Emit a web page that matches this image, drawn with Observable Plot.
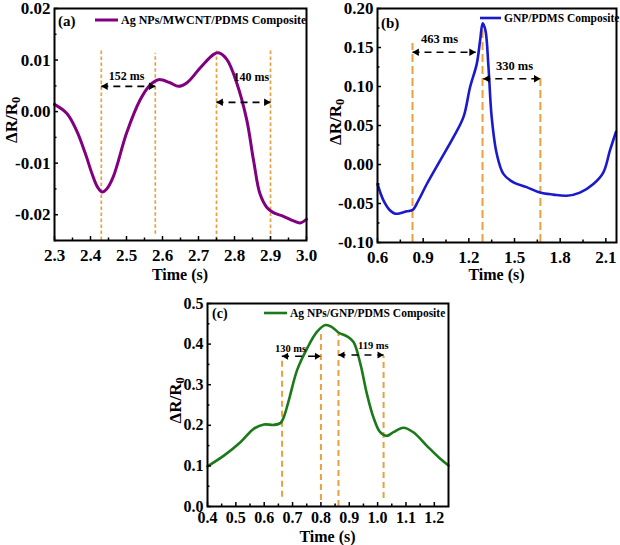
<!DOCTYPE html>
<html>
<head>
<meta charset="utf-8">
<script src="https://cdn.jsdelivr.net/npm/d3@7"></script>
<script src="https://cdn.jsdelivr.net/npm/@observablehq/plot@0.6"></script>
<style>
  body { margin: 0; background: #fff; }
  #wrap { position: relative; width: 620px; height: 545px; overflow: hidden; background: #fff; }
  #wrap > div { position: absolute; }
  #wrap svg { display: block; overflow: visible; }
</style>
</head>
<body>
<div id="wrap"></div>
<script>
// ---------- Panel (a): Ag NPs/MWCNT/PDMS Composite ----------
const timeA  = [2.30, 2.335, 2.362, 2.385, 2.405, 2.420, 2.432, 2.445, 2.464, 2.50, 2.538, 2.566, 2.589, 2.621, 2.644, 2.668, 2.705, 2.742, 2.755, 2.779, 2.806, 2.834, 2.853, 2.871, 2.89, 2.908, 2.936, 2.964, 2.982, 3.0];
const valueA = [0.0014, -0.0004, -0.0038, -0.0080, -0.0122, -0.0147, -0.0156, -0.0150, -0.0125, -0.0042, 0.0023, 0.0052, 0.0062, 0.0056, 0.0049, 0.0056, 0.0085, 0.0111, 0.0114, 0.0101, 0.0056, -0.0016, -0.0095, -0.0160, -0.0186, -0.0196, -0.0203, -0.0212, -0.0216, -0.0209];
const guideXA = [2.43, 2.58, 2.75, 2.90];
const guideTopA = [0.0118, 0.0113, 0.0118, 0.0118];
const guideBottomA = [-0.025, -0.0238, -0.025, -0.025];
const arrowFromA = [2.43, 2.75];
const arrowToA = [2.58, 2.90];
const arrowYA = [0.0049, 0.0018];
const noteTextA = ["152 ms", "140 ms"];
const noteXA = [2.50, 2.847];
const noteYA = [0.0068, 0.0066];
const xTicksA = [2.3, 2.4, 2.5, 2.6, 2.7, 2.8, 2.9, 3.0];
const yTicksA = [-0.02, -0.01, 0.00, 0.01, 0.02];

// ---------- Panel (b): GNP/PDMS Composite ----------
const timeB  = [0.60, 0.639, 0.683, 0.716, 0.749, 0.793, 0.832, 0.869, 0.924, 1.011, 1.099, 1.165, 1.208, 1.252, 1.274, 1.291, 1.309, 1.329, 1.35, 1.383, 1.427, 1.493, 1.58, 1.668, 1.755, 1.843, 1.93, 2.018, 2.084, 2.127, 2.167];
const valueB = [-0.025, -0.046, -0.059, -0.063, -0.0625, -0.060, -0.058, -0.046, -0.025, 0.005, 0.035, 0.061, 0.099, 0.129, 0.159, 0.181, 0.172, 0.125, 0.061, 0.014, -0.012, -0.023, -0.029, -0.036, -0.0386, -0.040, -0.036, -0.025, -0.010, 0.018, 0.042];
const guideXB = [0.83, 1.29, 1.67];
const guideTopB = [0.155, 0.177, 0.112];
const guideBottomB = [-0.10, -0.10, -0.10];
const arrowFromB = [0.83, 1.295];
const arrowToB = [1.245, 1.67];
const arrowYB = [0.144, 0.110];
const noteTextB = ["463 ms", "330 ms"];
const noteXB = [1.007, 1.50];
const noteYB = [0.161, 0.126];
const xTicksB = [0.6, 0.9, 1.2, 1.5, 1.8, 2.1];
const yTicksB = [-0.10, -0.05, 0.00, 0.05, 0.10, 0.15, 0.20];

// ---------- Panel (c): Ag NPs/GNP/PDMS Composite ----------
const timeC  = [0.40, 0.459, 0.517, 0.564, 0.599, 0.634, 0.658, 0.669, 0.687, 0.716, 0.751, 0.786, 0.816, 0.839, 0.863, 0.892, 0.915, 0.939, 0.962, 0.985, 1.009, 1.032, 1.056, 1.091, 1.126, 1.173, 1.22, 1.25];
const valueC = [0.099, 0.126, 0.159, 0.192, 0.202, 0.201, 0.206, 0.220, 0.262, 0.336, 0.389, 0.430, 0.447, 0.442, 0.428, 0.419, 0.405, 0.352, 0.278, 0.220, 0.183, 0.174, 0.183, 0.194, 0.183, 0.150, 0.118, 0.101];
const guideXC = [0.663, 0.80, 0.862, 1.021];
const guideTopC = [0.370, 0.426, 0.426, 0.370];
const guideBottomC = [0.023, 0.015, 0.0, 0.020];
const arrowFromC = [0.663, 0.862];
const arrowToC = [0.80, 1.021];
const arrowYC = [0.370, 0.373];
const noteTextC = ["130 ms", "119 ms"];
const noteXC = [0.693, 0.985];
const noteYC = [0.388, 0.396];
const xTicksC = [0.4, 0.5, 0.6, 0.7, 0.8, 0.9, 1.0, 1.1, 1.2];
const yTicksC = [0.0, 0.1, 0.2, 0.3, 0.4, 0.5];

const FONT = '"Liberation Serif", "Times New Roman", serif';
const ORANGE = "#e8a040";

function mids(ticks, extraEnd) {
  const out = [];
  for (let i = 0; i < ticks.length - 1; i++) out.push((ticks[i] + ticks[i + 1]) / 2);
  if (extraEnd != null) out.push(extraEnd);
  return out;
}

function panel(cfg) {
  const curve = cfg.times.map((t, i) => ({t, v: cfg.values[i]}));
  const guides = cfg.guideX.map((x, i) => ({x, y1: cfg.guideBottom[i], y2: cfg.guideTop[i]}));
  const arrows = cfg.arrowFrom.map((x1, i) => ({x1, x2: cfg.arrowTo[i], y: cfg.arrowY[i]}));
  const notes = cfg.noteText.map((text, i) => ({text, x: cfg.noteX[i], y: cfg.noteY[i]}));
  const xf = d => d.toFixed(cfg.xDigits);
  const yf = d => (Math.abs(d) < 1e-12 ? 0 : d).toFixed(cfg.yDigits);

  const svg = Plot.plot({
    width: cfg.width,
    height: cfg.height,
    marginLeft: cfg.m[0], marginRight: cfg.m[1], marginTop: cfg.m[2], marginBottom: cfg.m[3],
    style: {fontFamily: FONT, fontWeight: "bold", fontSize: cfg.tickFont + "px", background: "transparent", color: "black", overflow: "visible"},
    x: {domain: cfg.xDomain},
    y: {domain: cfg.yDomain},
    marks: [
      Plot.ruleX(guides, {x: "x", y1: "y1", y2: "y2", stroke: ORANGE, strokeWidth: cfg.guideWidth, strokeDasharray: cfg.guideDash}),
      Plot.line(curve, {x: "t", y: "v", stroke: cfg.color, strokeWidth: cfg.lineWidth, curve: "catmull-rom"}),
      Plot.link(arrows, {x1: "x1", x2: "x2", y1: "y", y2: "y", stroke: "black", strokeWidth: cfg.arrowWidth, strokeDasharray: cfg.arrowDash}),
      Plot.dot(arrows, {x: "x1", y: "y", symbol: "triangle2", rotate: -90, r: cfg.headR, fill: "black", stroke: "none", dx: cfg.headDx}),
      Plot.dot(arrows, {x: "x2", y: "y", symbol: "triangle2", rotate: 90, r: cfg.headR, fill: "black", stroke: "none", dx: -cfg.headDx}),
      Plot.text(notes, {x: "x", y: "y", text: "text", fontSize: cfg.noteFont, fontWeight: "bold", fill: "black"}),
      Plot.axisX(cfg.xMinor, {tickSize: -2.5, tickFormat: () => "", label: null, strokeWidth: 1.5}),
      Plot.axisY(cfg.yMinor, {tickSize: -2.5, tickFormat: () => "", label: null, strokeWidth: 1.5}),
      Plot.axisX(cfg.xTicks, {tickSize: -4, tickPadding: cfg.xPad, tickFormat: xf, label: null, strokeWidth: 1.5}),
      Plot.axisY(cfg.yTicks, {tickSize: -4, tickPadding: cfg.yPad, tickFormat: yf, label: null, strokeWidth: 1.5}),
      Plot.frame({stroke: "black", strokeWidth: 2})
    ]
  });

  const s = d3.select(svg);
  const fl = cfg.m[0], fr = cfg.width - cfg.m[1], ft = cfg.m[2], fb = cfg.height - cfg.m[3];
  // y-axis title with subscript
  const yl = s.append("text")
    .attr("transform", `translate(${cfg.yLabelX},${(ft + fb) / 2 + cfg.yLabelShift}) rotate(-90)`)
    .attr("text-anchor", "middle")
    .attr("font-family", FONT).attr("font-weight", "bold").attr("font-size", cfg.labelFont)
    .attr("fill", "black");
  yl.append("tspan").text("ΔR/R");
  yl.append("tspan").attr("font-size", cfg.labelFont * 0.72).attr("dy", "0.28em").text("0");
  // x-axis title
  s.append("text")
    .attr("x", (fl + fr) / 2).attr("y", cfg.xLabelY)
    .attr("text-anchor", "middle")
    .attr("font-family", FONT).attr("font-weight", "bold").attr("font-size", cfg.labelFont - 1)
    .attr("fill", "black").text("Time (s)");
  // panel letter
  s.append("text")
    .attr("x", fl + cfg.letterDx).attr("y", ft + cfg.letterDy)
    .attr("text-anchor", "start")
    .attr("font-family", FONT).attr("font-weight", "bold").attr("font-size", cfg.letterFont)
    .attr("fill", "black").text(cfg.letter);
  // legend
  s.append("line")
    .attr("x1", cfg.legX).attr("x2", cfg.legX + cfg.legLen)
    .attr("y1", cfg.legY).attr("y2", cfg.legY)
    .attr("stroke", cfg.color).attr("stroke-width", cfg.lineWidth);
  s.append("text")
    .attr("x", cfg.legX + cfg.legLen + 3).attr("y", cfg.legY)
    .attr("dy", "0.35em")
    .attr("text-anchor", "start")
    .attr("font-family", FONT).attr("font-weight", "bold").attr("font-size", cfg.legFont)
    .attr("fill", "black").text(cfg.legText);

  const holder = document.createElement("div");
  holder.style.left = cfg.left + "px";
  holder.style.top = cfg.top + "px";
  holder.appendChild(svg);
  document.getElementById("wrap").appendChild(holder);
}

panel({
  left: 0, top: 0, width: 310, height: 282, m: [54, 4, 8, 42],
  xDomain: [2.3, 3.0], yDomain: [-0.025, 0.02],
  xTicks: xTicksA, xMinor: mids(xTicksA), yTicks: yTicksA, yMinor: mids(yTicksA, -0.025),
  xDigits: 1, yDigits: 2, tickFont: 17, xPad: 12, yPad: 8,
  times: timeA, values: valueA, color: "#800080", lineWidth: 3,
  guideX: guideXA, guideTop: guideTopA, guideBottom: guideBottomA, guideWidth: 1.7, guideDash: "3.5,2.5",
  arrowFrom: arrowFromA, arrowTo: arrowToA, arrowY: arrowYA, arrowWidth: 1.6, arrowDash: "7,5", headR: 3.6, headDx: 4.2,
  noteText: noteTextA, noteX: noteXA, noteY: noteYA, noteFont: 12,
  yLabelX: 17, yLabelShift: -4, xLabelY: 280, labelFont: 17,
  letter: "(a)", letterDx: 4, letterDy: 18, letterFont: 15,
  legX: 95, legY: 20, legLen: 23, legFont: 12, legText: "Ag NPs/MWCNT/PDMS Composite"
});

panel({
  left: 310, top: 0, width: 310, height: 282, m: [67, 4, 8, 40],
  xDomain: [0.6, 2.17], yDomain: [-0.10, 0.20],
  xTicks: xTicksB, xMinor: mids(xTicksB), yTicks: yTicksB, yMinor: mids(yTicksB),
  xDigits: 1, yDigits: 2, tickFont: 17, xPad: 12, yPad: 8,
  times: timeB, values: valueB, color: "#1a1acc", lineWidth: 2.6,
  guideX: guideXB, guideTop: guideTopB, guideBottom: guideBottomB, guideWidth: 2, guideDash: "8,4",
  arrowFrom: arrowFromB, arrowTo: arrowToB, arrowY: arrowYB, arrowWidth: 1.6, arrowDash: "7,5", headR: 3.6, headDx: 4.2,
  noteText: noteTextB, noteX: noteXB, noteY: noteYB, noteFont: 12.5,
  yLabelX: 31, yLabelShift: -3, xLabelY: 280, labelFont: 17,
  letter: "(b)", letterDx: 4, letterDy: 20, letterFont: 15,
  legX: 170, legY: 18, legLen: 21, legFont: 11.5, legText: "GNP/PDMS Composite"
});

panel({
  left: 140, top: 280, width: 320, height: 265, m: [67, 12, 23, 39],
  xDomain: [0.4, 1.25], yDomain: [0.0, 0.5],
  xTicks: xTicksC, xMinor: mids(xTicksC), yTicks: yTicksC, yMinor: mids(yTicksC),
  xDigits: 1, yDigits: 1, tickFont: 16, xPad: 9, yPad: 8,
  times: timeC, values: valueC, color: "#1a7a1a", lineWidth: 2.6,
  guideX: guideXC, guideTop: guideTopC, guideBottom: guideBottomC, guideWidth: 2, guideDash: "6,4",
  arrowFrom: arrowFromC, arrowTo: arrowToC, arrowY: arrowYC, arrowWidth: 1.6, arrowDash: "7,6", headR: 3.3, headDx: 4,
  noteText: noteTextC, noteX: noteXC, noteY: noteYC, noteFont: 10.5,
  yLabelX: 41, yLabelShift: -4, xLabelY: 262, labelFont: 17,
  letter: "(c)", letterDx: 5, letterDy: 15, letterFont: 14,
  legX: 124, legY: 33, legLen: 23, legFont: 11.5, legText: "Ag NPs/GNP/PDMS Composite"
});
</script>
</body>
</html>
